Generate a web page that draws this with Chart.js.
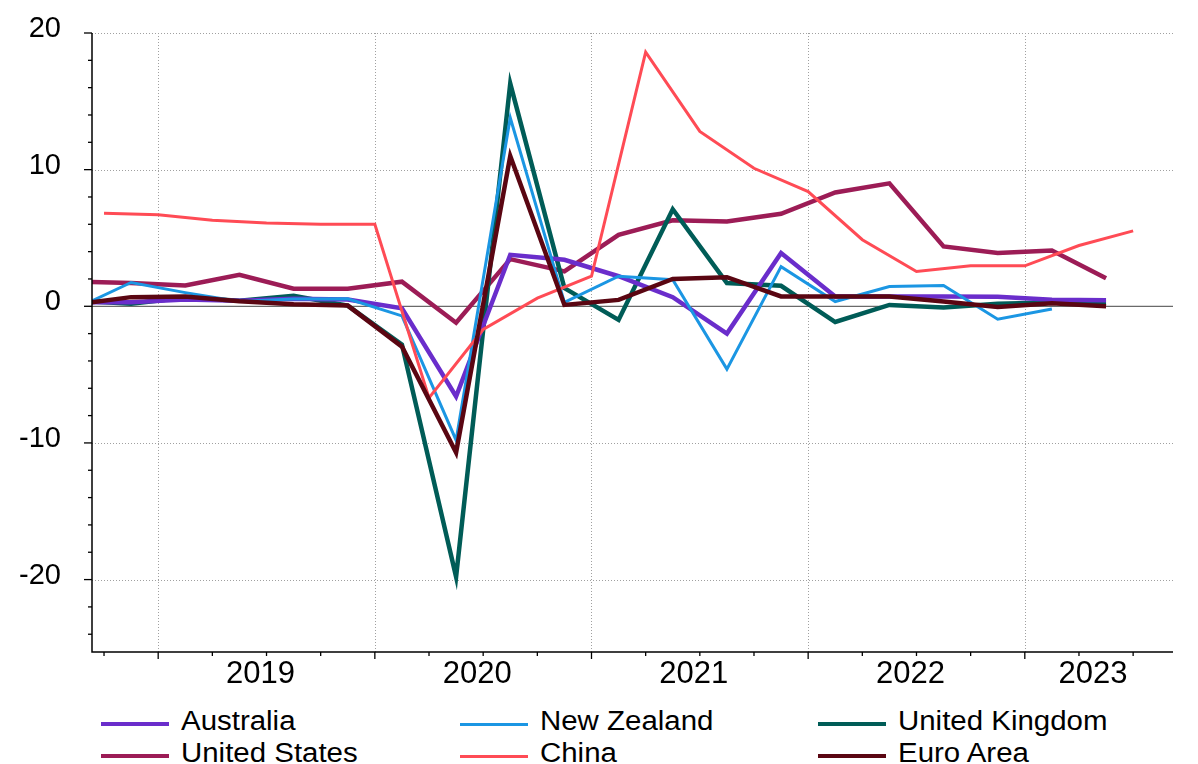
<!DOCTYPE html>
<html><head><meta charset="utf-8">
<script src="https://cdn.jsdelivr.net/npm/chart.js@4.4.0/dist/chart.umd.min.js"></script>
<style>
html,body{margin:0;padding:0;background:#fff;}
#wrap{position:relative;width:1198px;height:764px;overflow:hidden;font-family:'Liberation Sans',Arial,sans-serif;}
#c{position:absolute;left:0;top:0;}
.li{position:absolute;height:32px;width:340px;}
.li .sw{position:absolute;left:0;width:68px;}
.li .tx{position:absolute;left:80px;top:0;font-size:27px;line-height:32px;color:#000;white-space:nowrap;transform:scaleX(1.09);transform-origin:0 50%;}
</style></head>
<body><div id="wrap"><canvas id="c" width="1198" height="700"></canvas><div id="legend"></div></div>
<script>
// ---- data ----
const quarters = ['2018Q3','2018Q4','2019Q1','2019Q2','2019Q3','2019Q4','2020Q1','2020Q2','2020Q3','2020Q4',
                  '2021Q1','2021Q2','2021Q3','2021Q4','2022Q1','2022Q2','2022Q3','2022Q4','2023Q1','2023Q2'];
const australia     = [0.3, 0.3, 0.5, 0.4, 0.55, 0.5, -0.15, -6.6, 3.77, 3.4, 2.2, 0.67, -2.0, 3.9, 0.72, 0.72, 0.72, 0.7, 0.48, 0.45];
const newZealand    = [-0.13, 1.74, 1.0, 0.35, 0.53, 0.55, -0.7, -9.8, 13.8, 0.28, 2.2, 1.94, -4.6, 2.9, 0.35, 1.45, 1.52, -0.95, -0.2, null];
const unitedKingdom = [0.42, 0.18, 0.65, 0.4, 0.77, 0.05, -2.8, -19.8, 16.3, 1.33, -1.0, 7.1, 1.7, 1.5, -1.15, 0.1, -0.08, 0.18, 0.28, 0.3];
const unitedStates  = [1.8, 1.7, 1.52, 2.3, 1.28, 1.28, 1.8, -1.2, 3.45, 2.55, 5.23, 6.3, 6.2, 6.77, 8.33, 9.0, 4.38, 3.9, 4.08, 2.06];
const china         = [6.8, 6.7, 6.3, 6.1, 6.0, 6.0, -6.7, -1.7, 0.6, 2.2, 18.6, 12.8, 10.1, 8.4, 4.87, 2.55, 2.96, 2.96, 4.45, 5.52];
const euroArea      = [0.16, 0.67, 0.72, 0.37, 0.15, 0.05, -2.95, -10.7, 11.0, 0.1, 0.47, 2.0, 2.13, 0.72, 0.72, 0.72, 0.35, -0.06, 0.23, 0.0];
const seriesNames   = ['Australia','New Zealand','United Kingdom','United States','China','Euro Area'];
const yearLabels    = ['2019','2020','2021','2022','2023'];
const yTickLabels   = [-20, -10, 0, 10, 20];

// ---- helpers ----
function qMid(q){ const y=+q.slice(0,4), n=+q.slice(5); return y + (n-1)*0.25 + 0.125; }
function qEnd(q){ const y=+q.slice(0,4), n=+q.slice(5); return y + n*0.25; }
function pts(vals, posFn){ return vals.map((v,i)=>({x:posFn(quarters[i]), y:v})).filter(p=>p.y!==null); }

const FONT = "'Liberation Sans', Arial, sans-serif";
const colors = {
  'Australia':'#6a2dcb','New Zealand':'#1b96e3','United Kingdom':'#005c57',
  'United States':'#9c1c56','China':'#ff4b55','Euro Area':'#5a0612'
};
const widths = {'Australia':4.5,'New Zealand':3,'United Kingdom':4.5,'United States':4.5,'China':3,'Euro Area':4.5};
const orders = {'Euro Area':0,'China':1,'New Zealand':2,'Australia':3,'United Kingdom':4,'United States':5};
const seriesData = {
  'Australia':pts(australia,qMid),'New Zealand':pts(newZealand,qMid),'United Kingdom':pts(unitedKingdom,qMid),
  'United States':pts(unitedStates,qMid),'China':pts(china,qEnd),'Euro Area':pts(euroArea,qMid)
};

const xMin = 2018.6945, xMax = 2023.684, yMin = -25.3, yMax = 20;
// year labels centred in the visible part of each year
const yearLabelPos = yearLabels.map(y => (Math.max(+y, xMin) + Math.min(+y + 1, xMax)) / 2);

const axesPlugin = {
  id:'axesPlugin',
  beforeDatasetsDraw(chart){
    const ctx = chart.ctx, a = chart.chartArea, xs = chart.scales.x, ys = chart.scales.y;
    ctx.save();
    ctx.strokeStyle = '#a0a0a0'; ctx.lineWidth = 1; ctx.setLineDash([1,2]);
    [-20,-10,10,20].forEach(v=>{
      const y = Math.round(ys.getPixelForValue(v))+0.5;
      ctx.beginPath(); ctx.moveTo(a.left, y); ctx.lineTo(a.right, y); ctx.stroke();
    });
    yearLabels.forEach(yl=>{
      const x = Math.round(xs.getPixelForValue(+yl))+0.5;
      ctx.beginPath(); ctx.moveTo(x, a.top); ctx.lineTo(x, a.bottom); ctx.stroke();
    });
    ctx.setLineDash([]);
    ctx.strokeStyle = '#6a6a6a'; ctx.lineWidth = 1.3;
    const y0 = ys.getPixelForValue(0);
    ctx.beginPath(); ctx.moveTo(a.left, y0); ctx.lineTo(a.right, y0); ctx.stroke();
    ctx.restore();
  },
  afterDatasetsDraw(chart){
    const ctx = chart.ctx, a = chart.chartArea, xs = chart.scales.x, ys = chart.scales.y;
    ctx.save();
    ctx.strokeStyle = '#000'; ctx.lineWidth = 1.5;
    ctx.beginPath(); ctx.moveTo(a.left, a.top); ctx.lineTo(a.left, a.bottom); ctx.lineTo(a.right, a.bottom); ctx.stroke();
    ctx.lineWidth = 1.3;
    for (let v = -24; v <= 20; v += 2){
      const y = ys.getPixelForValue(v);
      const len = (v % 10 === 0) ? 8 : 4;
      ctx.beginPath(); ctx.moveTo(a.left - len, y); ctx.lineTo(a.left, y); ctx.stroke();
    }
    for (let t = 2018.75; t <= 2023.5 + 1e-6; t += 0.25){
      const x = xs.getPixelForValue(t);
      const major = Math.abs(t - Math.round(t)) < 1e-6;
      const len = major ? 7 : 4;
      ctx.beginPath(); ctx.moveTo(x, a.bottom); ctx.lineTo(x, a.bottom + len); ctx.stroke();
    }
    ctx.restore();
  }
};

const datasets = seriesNames.map(n=>({
  label:n, data:seriesData[n], borderColor:colors[n], backgroundColor:colors[n],
  borderWidth:widths[n], order:orders[n], pointRadius:0, fill:false, tension:0, clip:0,
  borderJoinStyle:'miter', borderCapStyle:'butt'
}));

new Chart(document.getElementById('c'), {
  type:'line',
  data:{datasets},
  plugins:[axesPlugin],
  options:{
    responsive:false, animation:false, devicePixelRatio:1,
    layout:{padding:{top:33,right:25,left:0,bottom:0}},
    plugins:{legend:{display:false}, tooltip:{enabled:false}},
    scales:{
      x:{type:'linear', min:xMin, max:xMax,
         grid:{display:false, drawTicks:false}, border:{display:false},
         afterBuildTicks:s=>{ s.ticks = yearLabelPos.map(v=>({value:v})); },
         ticks:{callback:(v,i)=>yearLabels[i], font:{family:FONT,size:31}, color:'#000',
                padding:4, labelOffset:-6, maxRotation:0, minRotation:0, autoSkip:false},
         afterFit:s=>{ s.height = 48; s.paddingLeft = 0; s.paddingRight = 0; }},
      y:{type:'linear', min:yMin, max:yMax,
         grid:{display:false, drawTicks:false}, border:{display:false},
         afterBuildTicks:s=>{ s.ticks = yTickLabels.map(v=>({value:v})); },
         ticks:{callback:v=>String(v), font:{family:FONT,size:29}, color:'#000', padding:31, labelOffset:-4},
         afterFit:s=>{ s.width = 92; s.paddingTop = 0; s.paddingBottom = 0; }}
    }
  }
});

// ---- legend (HTML, real text) ----
const legendSlots = [[101,705],[460,705],[818,705],[101,737],[460,737],[818,737]];
const legendOrder = ['Australia','New Zealand','United Kingdom','United States','China','Euro Area'];
const lg = document.getElementById('legend');
legendOrder.forEach((n,i)=>{
  const d = document.createElement('div'); d.className='li';
  d.style.left = legendSlots[i][0]+'px'; d.style.top = legendSlots[i][1]+'px';
  const sw = document.createElement('span'); sw.className='sw';
  const h = widths[n] > 4 ? 4 : 3;
  sw.style.height = h+'px'; sw.style.top = (19 - h/2)+'px'; sw.style.background = colors[n];
  const tx = document.createElement('span'); tx.className='tx'; tx.textContent = n;
  d.appendChild(sw); d.appendChild(tx); lg.appendChild(d);
});
</script>
</body></html>
